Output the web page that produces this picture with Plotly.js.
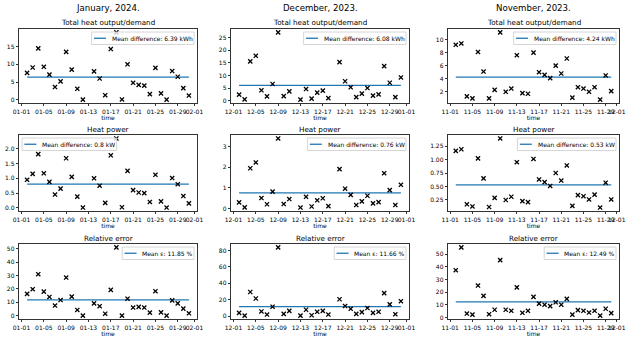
<!DOCTYPE html>
<html><head><meta charset="utf-8">
<script src="https://cdn.plot.ly/plotly-3.0.1.min.js"></script>
<style>html,body{margin:0;padding:0;background:#fff}</style>
</head><body><div id="chart" style="width:627px;height:345px"></div>
<script>
// ---- data ----
const janDays = [2,3,4,5,6,7,8,9,10,11,12,14,15,16,17,18,19,20,21,22,23,24,25,26,27,28,29,30,31];
const decDays = [2,3,4,5,6,7,8,9,10,11,13,14,15,16,17,18,20,21,22,23,24,25,26,27,28,29,30,31];
const novDays = [2,3,4,5,6,7,8,9,10,11,12,13,14,15,16,17,18,19,20,21,22,23,24,25,26,27,28,29,30];

const janTotal = [7.6,9.1,14.5,9.3,7.1,3.6,5.2,13.5,8.5,3.1,0.05,8.0,6.0,1.3,14.3,19.0,0.1,10.0,4.8,4.2,4.0,1.6,9.0,1.8,0.05,8.1,6.5,3.3,1.2];
const janPower = [0.95,1.15,1.82,1.17,0.88,0.45,0.65,1.68,1.05,0.38,0.01,1.0,0.75,0.17,1.78,2.35,0.02,1.25,0.6,0.52,0.5,0.2,1.12,0.22,0.01,1.01,0.8,0.4,0.15];
const janError = [16.3,19.8,31,18,14,7.6,11.7,28.5,14.3,4.3,0.1,9.2,7.1,1.5,19.3,51,0.1,12.7,6.1,6.6,6.1,2.3,18.3,2.5,0.1,11.5,9.2,5.3,1.8];

const decTotal = [2.4,0.5,15.6,17.8,4.1,1.7,6.6,27.1,1.8,3.7,0.4,4.6,0.8,3.2,4.0,1.0,15.3,7.7,5.3,1.4,2.8,5.0,2.0,2.5,13.7,7.1,1.4,9.2];
const decPower = [0.3,0.06,1.95,2.23,0.51,0.21,0.82,3.39,0.22,0.46,0.05,0.57,0.1,0.4,0.5,0.12,1.91,0.96,0.66,0.17,0.35,0.62,0.25,0.31,1.71,0.89,0.17,1.15];
const decError = [4.1,0.8,29.5,21.6,5.8,2.1,11.6,83.8,2.9,6.6,0.8,7.9,1.2,5.4,6.6,2.1,20.7,12.4,9.1,2.9,5.0,10,4.1,5.4,28.2,14.5,2.5,18.3];

const novTotal = [9.2,9.4,1.3,1.0,8.1,5.1,1.0,2.3,11.1,2.0,2.5,7.6,1.8,1.7,8.0,5.0,4.6,4.1,6.0,4.8,7.1,1.1,2.7,2.5,2.0,2.7,0.8,4.5,2.1];
const novPower = [1.16,1.19,0.17,0.13,1.02,0.65,0.12,0.29,1.39,0.25,0.31,0.95,0.23,0.21,1.01,0.63,0.58,0.51,0.75,0.61,0.89,0.14,0.34,0.32,0.26,0.35,0.11,0.57,0.26];
const novError = [37.4,55.4,3.2,2.4,25.3,17.2,2.7,6.2,45.4,6.2,5.4,23.9,3.8,5.4,16.4,11.0,10.2,9.1,12.1,10.2,14.8,2.4,5.9,5.4,4.0,5.4,1.6,7.0,3.5];

const janMeans = [6.39, 0.8, 11.85];
const decMeans = [6.08, 0.76, 11.66];
const novMeans = [4.24, 0.53, 12.49];

const columnTitles = ['January, 2024.', 'December, 2023.', 'November, 2023.'];
const rowTitles = ['Total heat output/demand', 'Heat power', 'Relative error'];
const legendPrefix = ['Mean difference: ', 'Mean difference: ', 'Mean \u03b5: '];
const legendUnit = [' kWh', ' kW', ' %'];

const janTickVals = ['2024-01-01','2024-01-05','2024-01-09','2024-01-13','2024-01-17','2024-01-21','2024-01-25','2024-01-29','2024-02-01'];
const janTickText = ['01-01','01-05','01-09','01-13','01-17','01-21','01-25','01-29','02-01'];
const decTickVals = ['2023-12-01','2023-12-05','2023-12-09','2023-12-13','2023-12-17','2023-12-21','2023-12-25','2023-12-29','2024-01-01'];
const decTickText = ['12-01','12-05','12-09','12-13','12-17','12-21','12-25','12-29','01-01'];
const novTickVals = ['2023-11-01','2023-11-05','2023-11-09','2023-11-13','2023-11-17','2023-11-21','2023-11-25','2023-11-29','2023-12-01'];
const novTickText = ['11-01','11-05','11-09','11-13','11-17','11-21','11-25','11-29','12-01'];

const yTickVals = [
  [0,5,10,15], [0,5,10,15,20,25], [2,4,6,8,10],
  [0,0.5,1,1.5,2], [0,1,2,3], [0.25,0.5,0.75,1,1.25],
  [0,10,20,30,40,50], [0,20,40,60,80], [0,10,20,30,40,50]
];
const yTickText = [
  ['0','5','10','15'], ['0','5','10','15','20','25'], ['2','4','6','8','10'],
  ['0.0','0.5','1.0','1.5','2.0'], ['0','1','2','3'], ['0.25','0.50','0.75','1.00','1.25'],
  ['0','10','20','30','40','50'], ['0','20','40','60','80'], ['0','10','20','30','40','50']
];

// ---- layout geometry (px) ----
const W = 627, H = 345;
const FONT = '"DejaVu Sans", sans-serif';
const colX = [[19,197],[231,409],[448,619]];
const rowY = [[29,103],[135,211],[244,319]];
const legendLeft = [[false,false,false],[true,false,false],[false,false,false]];
const TF = 6, LF = 6, TITLEF = 7.2, COLF = 8.6;
const BLUE = '#1f77b4';

const px = x => x / W;
const py = y => 1 - y / H;

const months = [
  {year:2024, m:'01', days:janDays, series:[janTotal,janPower,janError], means:janMeans, tv:janTickVals, tt:janTickText},
  {year:2023, m:'12', days:decDays, series:[decTotal,decPower,decError], means:decMeans, tv:decTickVals, tt:decTickText},
  {year:2023, m:'11', days:novDays, series:[novTotal,novPower,novError], means:novMeans, tv:novTickVals, tt:novTickText}
];

const ctx = document.createElement('canvas').getContext('2d');
ctx.font = LF + 'px "DejaVu Sans"';

const toStr = ms => new Date(ms).toISOString().slice(0,19).replace('T',' ');

const traces = [];
const layout = {
  width: W, height: H,
  margin: {l:0, r:0, t:0, b:0},
  paper_bgcolor: '#fff', plot_bgcolor: '#fff',
  showlegend: false,
  font: {family: FONT, size: TF, color: '#000'},
  shapes: [], annotations: []
};

months.forEach((mo, c) => {
  const dates = mo.days.map(d => `${mo.year}-${mo.m}-${String(d).padStart(2,'0')}`);
  const msArr = dates.map(s => Date.parse(s + 'T00:00:00Z'));
  const x0 = Math.min(...msArr), x1 = Math.max(...msArr);
  const xm = 0.05 * (x1 - x0);
  const xr = [toStr(x0 - xm), toStr(x1 + xm)];

  // column title
  layout.annotations.push({
    xref:'paper', yref:'paper', x: px((colX[c][0]+colX[c][1])/2), y: py(8),
    xanchor:'center', yanchor:'middle', showarrow:false,
    text: columnTitles[c], font:{family:FONT, size:COLF, color:'#000'}
  });

  mo.series.forEach((vals, r) => {
    const k = r*3 + c;
    const id = k === 0 ? '' : String(k+1);
    const xa = 'x' + id, ya = 'y' + id;
    const mean = mo.means[r];
    const lo = Math.min(...vals, mean), hi = Math.max(...vals, mean);
    const ym = 0.05 * (hi - lo);

    traces.push({
      type:'scatter', mode:'lines', x:[dates[0], dates[dates.length-1]], y:[mean, mean],
      xaxis:xa, yaxis:ya, line:{color:BLUE, width:1.3}, hoverinfo:'skip',
      name: legendPrefix[r] + mean + legendUnit[r]
    });
    traces.push({
      type:'scatter', mode:'markers', x:dates, y:vals, xaxis:xa, yaxis:ya,
      marker:{symbol:'x-thin', size:4.2, color:'#000', line:{width:1.3, color:'#000'}},
      hoverinfo:'x+y'
    });

    const common = {
      showgrid:false, zeroline:false, showline:true, mirror:true,
      linecolor:'#000', linewidth:0.8, ticks:'outside', ticklen:2.5, tickwidth:0.8,
      tickcolor:'#000', tickfont:{family:FONT, size:TF, color:'#000'}, tickangle:0,
      ticklabeloverflow:'allow', fixedrange:true
    };
    layout['xaxis' + id] = Object.assign({}, common, {
      type:'date', domain:[px(colX[c][0]), px(colX[c][1])], anchor:ya, range:xr,
      tickmode:'array', tickvals:mo.tv, ticktext:mo.tt,
      title:{text:'time', font:{family:FONT, size:TF, color:'#000'}, standoff:2}
    });
    layout['yaxis' + id] = Object.assign({}, common, {
      domain:[py(rowY[r][1]), py(rowY[r][0])], anchor:xa, range:[lo - ym, hi + ym],
      tickmode:'array', tickvals:yTickVals[k], ticktext:yTickText[k]
    });

    // subplot title
    layout.annotations.push({
      xref:'paper', yref:'paper', x: px((colX[c][0]+colX[c][1])/2), y: py(rowY[r][0] - 6),
      xanchor:'center', yanchor:'middle', showarrow:false,
      text: rowTitles[r], font:{family:FONT, size:TITLEF, color:'#000'}
    });

    // legend (matplotlib style)
    const txt = legendPrefix[r] + mean + legendUnit[r];
    const tw = ctx.measureText(txt).width;
    const pad = 0.4*LF, hl = 2*LF, htp = 0.8*LF, bap = 0.5*LF;
    const bw = 2*pad + hl + htp + tw, bh = 12.5;
    let bx0;
    if (legendLeft[r][c]) bx0 = colX[c][0] + bap; else bx0 = colX[c][1] - bap - bw;
    const by0 = rowY[r][0] + bap, by1 = by0 + bh, yc = (by0 + by1)/2;
    layout.shapes.push({
      type:'rect', xref:'paper', yref:'paper', x0:px(bx0), x1:px(bx0+bw), y0:py(by1), y1:py(by0),
      fillcolor:'rgba(255,255,255,0.8)', line:{color:'#cccccc', width:0.8}, layer:'above'
    });
    layout.shapes.push({
      type:'line', xref:'paper', yref:'paper', x0:px(bx0+pad), x1:px(bx0+pad+hl), y0:py(yc), y1:py(yc),
      line:{color:BLUE, width:1.3}, layer:'above'
    });
    layout.annotations.push({
      xref:'paper', yref:'paper', x:px(bx0+pad+hl+htp), y:py(yc), xanchor:'left', yanchor:'middle',
      showarrow:false, text:txt, font:{family:FONT, size:LF, color:'#000'}, borderpad:0
    });
  });
});

Plotly.newPlot('chart', traces, layout, {staticPlot:true, displayModeBar:false});
</script>
</body></html>
